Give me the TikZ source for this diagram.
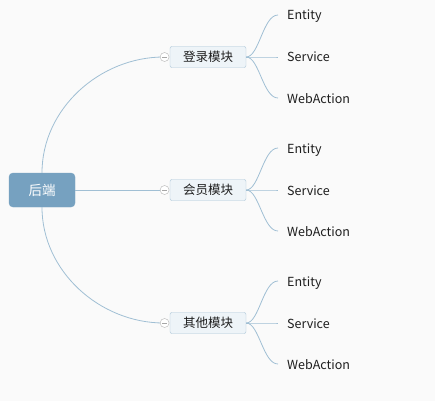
\documentclass[tikz,border=0pt]{standalone}
\usepackage{fontspec}
\setmainfont{Noto Sans CJK SC}
\usetikzlibrary{positioning,calc}
\definecolor{rootblue}{HTML}{76A1C0}
\definecolor{linkblue}{HTML}{A0BFD4}
\definecolor{boxfill}{HTML}{EEF4F8}
\definecolor{boxline}{HTML}{A9C4D7}
\definecolor{paper}{HTML}{FAFAFA}
\definecolor{leaftext}{HTML}{1E1E1E}
\tikzset{
	root/.style={
			draw=rootblue, fill=rootblue, rounded corners=4pt, text=white,
			minimum width=66pt, minimum height=34pt, inner sep=0pt,
			font=\fontsize{13.5}{13.5}\selectfont
		},
	module/.style={
			draw=boxline, fill=boxfill, rounded corners=2pt, text=leaftext,
			minimum width=76pt, minimum height=21pt, inner sep=0pt,
			font=\fontsize{12.5}{12.5}\selectfont
		},
	fold/.style={
			circle, draw=gray!60, fill=white, minimum size=9pt, inner sep=0pt,
			path picture={\draw[gray!70] ([xshift=-2.5pt]path picture bounding box.center) -- ([xshift=2.5pt]path picture bounding box.center);}
		},
	leaf/.style={
			anchor=west, inner sep=0pt, text=leaftext, text height=12pt, text depth=2pt,
			font=\fontsize{12.5}{12.5}\selectfont
		},
	link/.style={draw=linkblue, line width=0.8pt}
}

\begin{document}
\begin{tikzpicture}[x=1pt, y=-1pt]
		% Draw the page
		\fill[paper] (0,0) rectangle (435,401);
		\useasboundingbox (0,0) rectangle (435,401);
		% Draw the root and the modules
		\node[root] (backend) at (42,190) {后端};
		\node[module] (login) at (208,57) {登录模块};
		\node[module] (member) at (208,190) {会员模块};
		\node[module] (other) at (208,323) {其他模块};
		% Draw the branches from the root
		\draw[link] (backend.north) .. controls +(0,-64) and +(-64,0) .. ($(login.west)+(-6,0)$);
		\draw[link] (backend.east) -- ($(member.west)+(-6,0)$);
		\draw[link] (backend.south) .. controls +(0,64) and +(-64,0) .. ($(other.west)+(-6,0)$);
		\node[fold, left=0.5pt of login] (login-fold) {};
		\node[fold, left=0.5pt of member] (member-fold) {};
		\node[fold, left=0.5pt of other] (other-fold) {};
		% Draw the leaves of each module
		\foreach \m in {login,member,other}{
				\node[leaf] (\m-e) at ($(\m.center)+(79,-42)$) {Entity};
				\node[leaf] (\m-s) at ($(\m.center)+(79,0)$) {Service};
				\node[leaf] (\m-w) at ($(\m.center)+(79,41)$) {WebAction};
				\foreach \l in {e,s,w}
					\draw[link] (\m.east) .. controls +(13,0) and +(-15,0) .. ($(\m-\l.west)+(-9,0)$);
			}
	\end{tikzpicture}
\end{document}
